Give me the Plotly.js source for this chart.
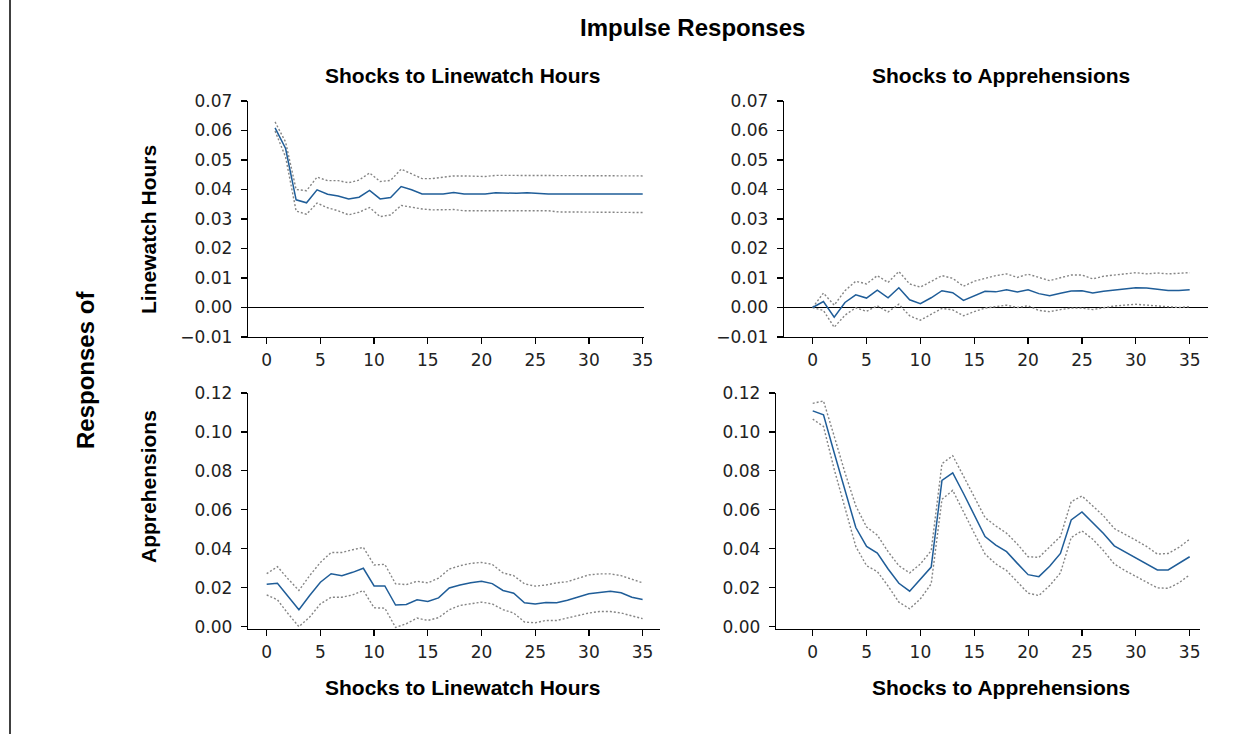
<!DOCTYPE html>
<html>
<head>
<meta charset="utf-8">
<script src="https://cdn.plot.ly/plotly-3.0.1.min.js"></script>
<style>
  html, body { margin: 0; padding: 0; background: #fff; }
  #chart { width: 1254px; height: 734px; }
</style>
</head>
<body>
<div id="chart"></div>
<script>
// ---------- data ----------
var steps = [0,1,2,3,4,5,6,7,8,9,10,11,12,13,14,15,16,17,18,19,20,21,22,23,24,25,26,27,28,29,30,31,32,33,34,35];
// the own-shock linewatch panel is drawn on a slightly shifted horizon in the original
var lwOwnHorizon = [0.78,1.76,2.74,3.71,4.69,5.67,6.65,7.63,8.60,9.58,10.56,11.54,12.52,13.49,14.47,15.45,16.43,17.41,18.38,19.36,20.34,21.32,22.30,23.27,24.25,25.23,26.21,27.19,28.16,29.14,30.12,31.10,32.08,33.05,34.03,35.01];

// Response of Linewatch Hours to Linewatch Hours shock
var lwLw    = [0.0609,0.0539,0.0365,0.0355,0.0399,0.0384,0.0378,0.0368,0.0374,0.0397,0.0368,0.0373,0.0410,0.0399,0.0385,0.0385,0.0385,0.0390,0.0385,0.0385,0.0385,0.0389,0.0387,0.0387,0.0389,0.0386,0.0385,0.0385,0.0385,0.0385,0.0385,0.0385,0.0385,0.0385,0.0385,0.0385];
var lwLwUp  = [0.0629,0.0561,0.0400,0.0396,0.0442,0.0430,0.0430,0.0423,0.0432,0.0456,0.0427,0.0431,0.0469,0.0454,0.0437,0.0437,0.0441,0.0446,0.0446,0.0444,0.0444,0.0448,0.0448,0.0448,0.0448,0.0448,0.0448,0.0448,0.0448,0.0447,0.0447,0.0447,0.0447,0.0447,0.0447,0.0446];
var lwLwLo  = [0.0598,0.0510,0.0327,0.0316,0.0354,0.0338,0.0328,0.0314,0.0323,0.0339,0.0308,0.0314,0.0346,0.0340,0.0334,0.0331,0.0331,0.0332,0.0328,0.0328,0.0328,0.0328,0.0328,0.0328,0.0328,0.0328,0.0328,0.0324,0.0324,0.0324,0.0322,0.0322,0.0322,0.0322,0.0322,0.0322];

// Response of Linewatch Hours to Apprehensions shock
var lwAp    = [0.0000,0.0020,-0.0033,0.0017,0.0043,0.0032,0.0059,0.0033,0.0067,0.0026,0.0013,0.0033,0.0057,0.0050,0.0024,0.0040,0.0055,0.0053,0.0060,0.0053,0.0060,0.0047,0.0040,0.0048,0.0056,0.0057,0.0049,0.0055,0.0059,0.0064,0.0067,0.0066,0.0063,0.0058,0.0058,0.0060];
var lwApUp  = [0.0000,0.0049,0.0008,0.0057,0.0089,0.0080,0.0108,0.0085,0.0122,0.0080,0.0069,0.0088,0.0108,0.0099,0.0072,0.0089,0.0099,0.0108,0.0114,0.0102,0.0113,0.0102,0.0091,0.0101,0.0110,0.0110,0.0097,0.0106,0.0110,0.0116,0.0118,0.0114,0.0117,0.0114,0.0115,0.0118];
var lwApLo  = [0.0000,-0.0010,-0.0067,-0.0026,-0.0001,-0.0013,0.0006,-0.0015,0.0011,-0.0028,-0.0043,-0.0023,-0.0003,-0.0008,-0.0028,-0.0014,-0.0002,0.0003,0.0008,0.0000,0.0006,-0.0010,-0.0014,-0.0007,-0.0002,-0.0002,-0.0007,-0.0001,0.0005,0.0008,0.0011,0.0008,0.0005,0.0003,0.0000,0.0003];

// Response of Apprehensions to Linewatch Hours shock
var apLw    = [0.0218,0.0223,0.0155,0.0087,0.0160,0.0228,0.0272,0.0262,0.0279,0.0300,0.0209,0.0209,0.0111,0.0114,0.0138,0.0129,0.0148,0.0199,0.0214,0.0226,0.0233,0.0221,0.0186,0.0172,0.0123,0.0116,0.0124,0.0123,0.0136,0.0153,0.0169,0.0175,0.0182,0.0174,0.0151,0.0140];
var apLwUp  = [0.0272,0.0308,0.0245,0.0186,0.0262,0.0330,0.0381,0.0381,0.0395,0.0407,0.0317,0.0320,0.0220,0.0216,0.0233,0.0225,0.0249,0.0296,0.0313,0.0325,0.0330,0.0320,0.0276,0.0262,0.0220,0.0208,0.0214,0.0225,0.0231,0.0249,0.0266,0.0271,0.0271,0.0262,0.0245,0.0225];
var apLwLo  = [0.0163,0.0138,0.0066,0.0000,0.0049,0.0117,0.0151,0.0151,0.0163,0.0186,0.0097,0.0095,-0.0004,0.0015,0.0044,0.0032,0.0046,0.0087,0.0109,0.0117,0.0126,0.0117,0.0087,0.0070,0.0024,0.0020,0.0032,0.0032,0.0044,0.0058,0.0070,0.0078,0.0078,0.0070,0.0054,0.0041];

// Response of Apprehensions to Apprehensions shock
var apAp    = [0.1108,0.1088,0.0892,0.0705,0.0509,0.0412,0.0378,0.0296,0.0223,0.0182,0.0242,0.0306,0.0751,0.0790,0.0684,0.0575,0.0463,0.0419,0.0385,0.0325,0.0267,0.0257,0.0310,0.0376,0.0548,0.0589,0.0534,0.0478,0.0415,0.0385,0.0351,0.0322,0.0291,0.0291,0.0325,0.0359];
var apApUp  = [0.1147,0.1159,0.0977,0.0790,0.0620,0.0512,0.0470,0.0385,0.0313,0.0276,0.0322,0.0390,0.0837,0.0878,0.0773,0.0667,0.0560,0.0517,0.0480,0.0424,0.0359,0.0356,0.0407,0.0463,0.0642,0.0671,0.0620,0.0569,0.0504,0.0475,0.0444,0.0412,0.0373,0.0376,0.0407,0.0449];
var apApLo  = [0.1066,0.1028,0.0807,0.0611,0.0412,0.0313,0.0283,0.0208,0.0126,0.0092,0.0143,0.0220,0.0654,0.0700,0.0586,0.0480,0.0373,0.0322,0.0288,0.0228,0.0172,0.0160,0.0211,0.0276,0.0458,0.0492,0.0449,0.0390,0.0322,0.0288,0.0257,0.0228,0.0199,0.0197,0.0225,0.0266];

var xTickVals = [0,5,10,15,20,25,30,35];
var mainTitle = 'Impulse Responses';
var shockNames = ['Shocks to Linewatch Hours', 'Shocks to Apprehensions'];
var responseNames = ['Linewatch Hours', 'Apprehensions'];
var responsesOf = 'Responses of';

// ---------- styling ----------
var W = 1254, H = 734;
var blue = '#1f5d98';
var grey = '#858585';
var tickFont = {family: 'DejaVu Sans, Liberation Sans, sans-serif', size: 17, color: '#222'};
var boldFamily = 'Liberation Sans, Arial, sans-serif';

function px(x) { return x / W; }
function py(y) { return 1 - y / H; }

function panel(xs, mid, up, lo, xa, ya) {
  return [
    {x: xs, y: up,  xaxis: xa, yaxis: ya, type: 'scatter', mode: 'lines', hoverinfo: 'skip',
     line: {color: grey, width: 1.4, dash: '2px,2px'}},
    {x: xs, y: lo,  xaxis: xa, yaxis: ya, type: 'scatter', mode: 'lines', hoverinfo: 'skip',
     line: {color: grey, width: 1.4, dash: '2px,2px'}},
    {x: xs, y: mid, xaxis: xa, yaxis: ya, type: 'scatter', mode: 'lines', hoverinfo: 'skip',
     line: {color: blue, width: 1.5}}
  ];
}

var traces = []
  .concat(panel(lwOwnHorizon, lwLw, lwLwUp, lwLwLo, 'x', 'y'))
  .concat(panel(steps, lwAp, lwApUp, lwApLo, 'x2', 'y2'))
  .concat(panel(steps, apLw, apLwUp, apLwLo, 'x3', 'y3'))
  .concat(panel(steps, apAp, apApUp, apApLo, 'x4', 'y4'));

function xAxis(domain, range, anchor) {
  return {domain: domain, range: range, anchor: anchor, tickvals: xTickVals,
    showline: true, linecolor: '#000', linewidth: 1.2, ticks: 'outside', ticklen: 6,
    tickwidth: 1.2, tickcolor: '#000', showgrid: false, zeroline: false,
    tickfont: tickFont, fixedrange: true, ticklabelstandoff: 1};
}
function yAxis(domain, range, anchor, dtick, zero) {
  return {domain: domain, range: range, anchor: anchor, dtick: dtick, tick0: 0, tickformat: '.2f',
    showline: true, linecolor: '#000', linewidth: 1.2, ticks: 'outside', ticklen: 6,
    tickwidth: 1.2, tickcolor: '#000', showgrid: false,
    zeroline: zero, zerolinecolor: '#000', zerolinewidth: 1.2,
    tickfont: tickFont, fixedrange: true, ticklabelstandoff: 5};
}

var yTop = [py(337), py(101)];
var yBot = [py(629), py(393)];

var layout = {
  width: W, height: H,
  margin: {l: 0, r: 0, t: 0, b: 0},
  paper_bgcolor: '#fff', plot_bgcolor: 'rgba(0,0,0,0)',
  showlegend: false,
  xaxis:  xAxis([px(248), px(644)], [-1.74, 35.13], 'y'),
  yaxis:  yAxis(yTop, [-0.01, 0.07], 'x', 0.01, true),
  xaxis2: xAxis([px(784), px(1208)], [-2.66, 36.70], 'y2'),
  yaxis2: yAxis(yTop, [-0.01, 0.07], 'x2', 0.01, true),
  xaxis3: xAxis([px(248), px(660)], [-1.74, 36.62], 'y3'),
  yaxis3: yAxis(yBot, [-0.0012, 0.12], 'x3', 0.02, false),
  xaxis4: xAxis([px(776), px(1200)], [-3.41, 35.96], 'y4'),
  yaxis4: yAxis(yBot, [-0.0012, 0.12], 'x4', 0.02, false),
  shapes: [
    {type: 'line', xref: 'paper', yref: 'paper', x0: px(10), x1: px(10), y0: 0, y1: 1,
     line: {color: '#000', width: 1.5}}
  ],
  annotations: [
    {text: '<b>' + mainTitle + '</b>', x: px(692), y: py(27), xref: 'paper', yref: 'paper',
     showarrow: false, xanchor: 'center', yanchor: 'middle', font: {family: boldFamily, size: 24, color: '#000'}},
    {text: '<b>' + shockNames[0] + '</b>', x: px(462), y: py(75), xref: 'paper', yref: 'paper',
     showarrow: false, xanchor: 'center', yanchor: 'middle', font: {family: boldFamily, size: 21, color: '#000'}},
    {text: '<b>' + shockNames[1] + '</b>', x: px(1001), y: py(75), xref: 'paper', yref: 'paper',
     showarrow: false, xanchor: 'center', yanchor: 'middle', font: {family: boldFamily, size: 21, color: '#000'}},
    {text: '<b>' + shockNames[0] + '</b>', x: px(462), y: py(687), xref: 'paper', yref: 'paper',
     showarrow: false, xanchor: 'center', yanchor: 'middle', font: {family: boldFamily, size: 21, color: '#000'}},
    {text: '<b>' + shockNames[1] + '</b>', x: px(1001), y: py(687), xref: 'paper', yref: 'paper',
     showarrow: false, xanchor: 'center', yanchor: 'middle', font: {family: boldFamily, size: 21, color: '#000'}},
    {text: '<b>' + responsesOf + '</b>', x: px(85), y: py(370), xref: 'paper', yref: 'paper', textangle: -90,
     showarrow: false, xanchor: 'center', yanchor: 'middle', font: {family: boldFamily, size: 24, color: '#000'}},
    {text: '<b>' + responseNames[0] + '</b>', x: px(148), y: py(230), xref: 'paper', yref: 'paper', textangle: -90,
     showarrow: false, xanchor: 'center', yanchor: 'middle', font: {family: boldFamily, size: 21, color: '#000'}},
    {text: '<b>' + responseNames[1] + '</b>', x: px(148), y: py(487), xref: 'paper', yref: 'paper', textangle: -90,
     showarrow: false, xanchor: 'center', yanchor: 'middle', font: {family: boldFamily, size: 21, color: '#000'}}
  ]
};

Plotly.newPlot('chart', traces, layout, {displayModeBar: false, staticPlot: true});
</script>
</body>
</html>
